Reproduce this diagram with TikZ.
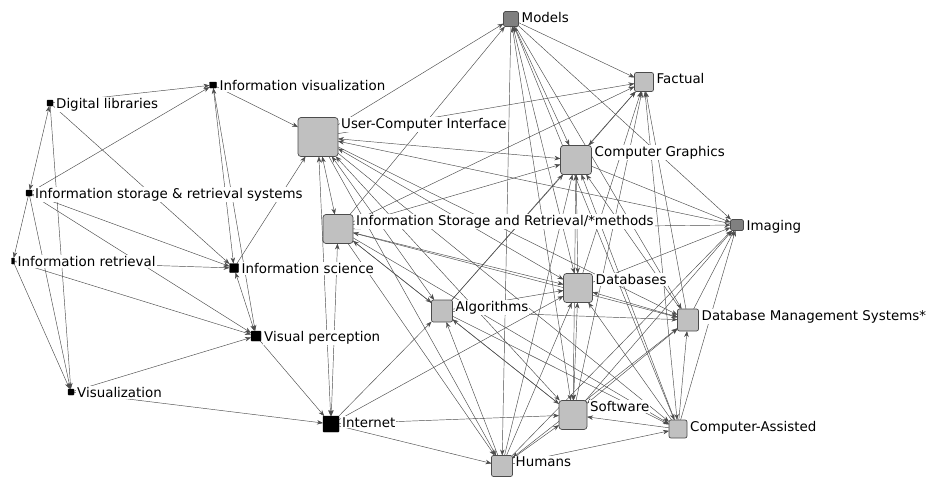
\documentclass[tikz,border=0pt]{standalone}
\usepackage{fontspec}
\setmainfont{DejaVu Sans}
\usetikzlibrary{arrows.meta,calc}
\definecolor{lightg}{RGB}{192,192,192}
\definecolor{darkg}{RGB}{128,128,128}
\pgfdeclarelayer{edges}
\pgfsetlayers{edges,main}
\begin{document}
\begin{tikzpicture}[x=1pt,y=-1pt,
  mkbox/.style={draw=black!70, line width=0.7pt, rounded corners=3pt, inner sep=0pt, outer sep=0pt},
  ltbox/.style={mkbox, fill=lightg},
  dkbox/.style={mkbox, fill=darkg, rounded corners=1.5pt},
  smallr/.style={rounded corners=2pt},
  bkbox/.style={draw=black, fill=black, line width=0.4pt, inner sep=0pt, outer sep=0pt, rounded corners=0.6pt},
  lbl/.style={anchor=base west, fill=white, inner sep=1pt, font=\fontsize{13.4}{15}\selectfont},
  edg/.style={draw=black!70, line width=0.45pt, -{Stealth[length=6pt,width=4.5pt]}},
  edgg/.style={draw=black!70, line width=0.45pt, {Stealth[length=6pt,width=4.5pt]}-{Stealth[length=6pt,width=4.5pt]}},
]
\begin{pgfonlayer}{edges}
\useasboundingbox[fill=white] (0,0) rectangle (938,475);
\end{pgfonlayer}

% ---- markers
\node[dkbox,minimum width=15,minimum height=15] (MO) at (511,19) {};
\node[ltbox,smallr,minimum width=19,minimum height=19] (FA) at (644,82) {};
\node[ltbox,minimum width=31,minimum height=29] (CG) at (576,160) {};
\node[ltbox,minimum width=40,minimum height=39] (UCI) at (318,137) {};
\node[dkbox,minimum width=13,minimum height=11] (IM) at (737,225) {};
\node[ltbox,minimum width=30,minimum height=29] (ISR) at (338,229) {};
\node[ltbox,minimum width=29,minimum height=29] (DB) at (578,288) {};
\node[ltbox,smallr,minimum width=21,minimum height=22] (AL) at (442,311) {};
\node[ltbox,smallr,minimum width=21,minimum height=22] (DBMS) at (688,320) {};
\node[ltbox,minimum width=28,minimum height=29] (SW) at (573,415) {};
\node[ltbox,smallr,minimum width=18,minimum height=18] (CA) at (678,429) {};
\node[ltbox,smallr,minimum width=21,minimum height=21] (HU) at (502,466) {};
\node[bkbox,minimum width=16,minimum height=16] (IN) at (331,424) {};
\node[bkbox,minimum width=10,minimum height=10] (VP) at (256,336) {};
\node[bkbox,minimum width=9,minimum height=9] (IS) at (234,268) {};
\node[bkbox,minimum width=6,minimum height=6] (VZ) at (71,392) {};
\node[bkbox,minimum width=3,minimum height=6] (IR) at (13,261) {};
\node[bkbox,minimum width=6,minimum height=6] (ISRS) at (29,193) {};
\node[bkbox,minimum width=6,minimum height=6] (DL) at (50,103) {};
\node[bkbox,minimum width=7,minimum height=6] (IV) at (213,85) {};

\begin{pgfonlayer}{edges}
% ---- left cluster
\draw[edg] (DL) -- (IV);
\draw[edgg] (ISRS) -- (DL);
\draw[edg] (DL) -- (IS);
\draw[edg] (DL) -- (VZ);
\draw[edg] (ISRS) -- (IV);
\draw[edg] (ISRS) -- (IR);
\draw[edg] (ISRS) -- (VZ);
\draw[edg] (ISRS) -- (IS);
\draw[edg] (ISRS) -- (VP);
\draw[edgg] (IV) -- (IS);
\draw[edg] (IV) -- (VP);
\draw[edg] (IV) -- (UCI);
\draw[edg] (IS) -- (UCI);
\draw[edg] (IR) -- (IS);
\draw[edg] (IR) -- (VP);
\draw[edg] (IR) -- (VZ);
\draw[edg] (VZ) -- (VP);
\draw[edg] (VZ) -- (IN);
\draw[edgg] (IS) -- (VP);
\draw[edg] (VP) -- (IN);
\draw[edgg] (UCI) -- (IN);
\draw[edgg] (ISR) -- (IN);
% ---- User-Computer Interface
\draw[edg] (UCI) -- (MO);
\draw[edg] (ISR) -- (MO);
\draw[edg] (UCI) -- (FA);
\draw[edgg] (UCI) -- (CG);
\draw[edg] (IM) -- (UCI);
\draw[edgg] (UCI) -- (ISR);
\draw[edgg] (UCI) -- (DB);
\draw[edgg] (UCI) -- (AL);
\draw[edgg] (UCI) -- (SW);
\draw[edg] (UCI) -- (DBMS);
\draw[edg] (UCI) -- (CA);
\draw[edg] (UCI) -- (HU);
% ---- ISR methods
\draw[edg] (ISR) -- (CG);
\draw[edg] (ISR) -- (FA);
\draw[edgg] (ISR) -- (DB);
\draw[edg] (ISR) -- (AL);
\draw[edgg] (ISR) -- (SW);
\draw[edg] (ISR) -- (HU);
\draw[edg] (ISR) -- (DBMS);
\draw[edg] (ISR) -- (CA);
\draw[edg] (ISR) -- (IM);
% ---- Models
\draw[edg] (MO) -- (FA);
\draw[edg] (MO) -- (CG);
\draw[edgg] (MO) -- (DB);
\draw[edgg] (MO) -- (SW);
\draw[edg] (MO) -- (HU);
\draw[edgg] (MO) -- (CA);
\draw[edg] (MO) -- (DBMS);
\draw[edg] (MO) -- (IM);
% ---- Factual
\draw[edgg] (FA) -- (CG);
\draw[edg] (DB) -- (FA);
\draw[edg] (SW) -- (FA);
\draw[edgg] (CA) -- (FA);
\draw[edg] (DBMS) -- (FA);
\draw[edg] (AL) -- (FA);
% ---- Computer Graphics
\draw[edgg] (DB) -- (CG);
\draw[edgg] (SW) -- (CG);
\draw[edg] (HU) -- (CG);
\draw[edg] (AL) -- (CG);
\draw[edg] (CG) -- (IM);
\draw[edg] (CA) -- (CG);
\draw[edg] (DBMS) -- (CG);
% ---- Algorithms
\draw[edg] (AL) -- (DB);
\draw[edg] (AL) -- (DBMS);
\draw[edg] (IN) -- (AL);
\draw[edg] (SW) -- (AL);
\draw[edg] (HU) -- (AL);
\draw[edg] (AL) -- (CA);
% ---- Databases
\draw[edgg] (DB) -- (DBMS);
\draw[edgg] (DB) -- (SW);
\draw[edg] (CA) -- (DB);
\draw[edg] (HU) -- (DB);
\draw[edg] (IN) -- (DB);
\draw[edg] (DB) -- (IM);
% ---- Software
\draw[edgg] (SW) -- (HU);
\draw[edg] (CA) -- (SW);
\draw[edg] (IN) -- (SW);
\draw[edgg] (SW) -- (DBMS);
\draw[edg] (SW) -- (IM);
% ---- Computer-Assisted, DBMS, Humans
\draw[edg] (CA) -- (DBMS);
\draw[edg] (CA) -- (IM);
\draw[edg] (HU) -- (CA);
\draw[edgg] (HU) -- (DBMS);
\draw[edg] (DBMS) -- (IM);
\draw[edg] (IN) -- (HU);
\draw[edg] (HU) -- (IM);
\end{pgfonlayer}

% ---- labels (white background, over the connectors)
\node[lbl] (MOl) at ($(MO.north east)+(2,11)$) {Models};
\node[lbl] (FAl) at ($(FA.north east)+(2,11)$) {Factual};
\node[lbl] (CGl) at ($(CG.north east)+(2,11)$) {Computer Graphics};
\node[lbl] (UCIl) at ($(UCI.north east)+(2,11)$) {User-Computer Interface};
\node[lbl] (IMl) at ($(IM.north east)+(2,11)$) {Imaging};
\node[lbl] (ISRl) at ($(ISR.north east)+(2,11)$) {Information Storage and Retrieval/*methods};
\node[lbl] (DBl) at ($(DB.north east)+(2,11)$) {Databases};
\node[lbl] (ALl) at ($(AL.north east)+(2,11)$) {Algorithms};
\node[lbl] (DBMSl) at ($(DBMS.north east)+(2,11)$) {Database Management Systems*};
\node[lbl] (SWl) at ($(SW.north east)+(2,11)$) {Software};
\node[lbl] (CAl) at ($(CA.north east)+(2,11)$) {Computer-Assisted};
\node[lbl] (HUl) at ($(HU.north east)+(2,11)$) {Humans};
\node[lbl] (INl) at ($(IN.north east)+(2,11)$) {Internet};
\node[lbl] (VPl) at ($(VP.east)+(2,5.5)$) {Visual perception};
\node[lbl] (ISl) at ($(IS.east)+(2,5.5)$) {Information science};
\node[lbl] (VZl) at ($(VZ.east)+(2,5.5)$) {Visualization};
\node[lbl] (IRl) at ($(IR.east)+(2,5.5)$) {Information retrieval};
\node[lbl] (ISRSl) at ($(ISRS.east)+(2,5.5)$) {Information storage \& retrieval systems};
\node[lbl] (DLl) at ($(DL.east)+(2,5.5)$) {Digital libraries};
\node[lbl] (IVl) at ($(IV.east)+(2,5.5)$) {Information visualization};
\end{tikzpicture}
\end{document}
